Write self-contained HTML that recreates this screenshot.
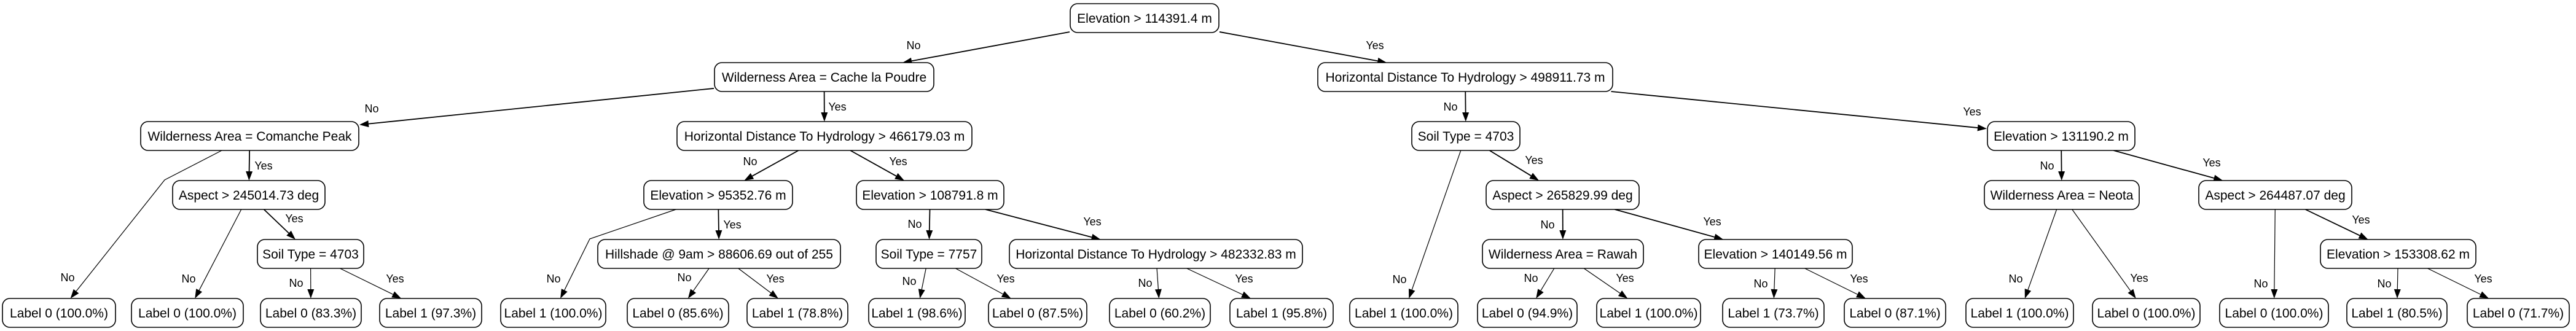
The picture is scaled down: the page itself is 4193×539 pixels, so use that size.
<!DOCTYPE html>
<html><head><meta charset="utf-8"><style>
html,body{margin:0;padding:0;background:#fff;}
svg{display:block;font-family:"Liberation Sans",Arial,sans-serif;}
</style></head><body>
<svg id="tree" width="4193" height="539" viewBox="0 0 4193 539" xmlns="http://www.w3.org/2000/svg"></svg>
<script>
const nodeLabels = [
 "Elevation > 114391.4 m",
 "Wilderness Area = Cache la Poudre",
 "Horizontal Distance To Hydrology > 498911.73 m",
 "Wilderness Area = Comanche Peak",
 "Horizontal Distance To Hydrology > 466179.03 m",
 "Soil Type = 4703",
 "Elevation > 131190.2 m",
 "Aspect > 245014.73 deg",
 "Elevation > 95352.76 m",
 "Elevation > 108791.8 m",
 "Aspect > 265829.99 deg",
 "Wilderness Area = Neota",
 "Aspect > 264487.07 deg",
 "Soil Type = 4703",
 "Hillshade @ 9am > 88606.69 out of 255",
 "Soil Type = 7757",
 "Horizontal Distance To Hydrology > 482332.83 m",
 "Wilderness Area = Rawah",
 "Elevation > 140149.56 m",
 "Elevation > 153308.62 m",
 "Label 0 (100.0%)","Label 0 (100.0%)","Label 0 (83.3%)","Label 1 (97.3%)",
 "Label 1 (100.0%)","Label 0 (85.6%)","Label 1 (78.8%)","Label 1 (98.6%)",
 "Label 0 (87.5%)","Label 0 (60.2%)","Label 1 (95.8%)","Label 1 (100.0%)",
 "Label 0 (94.9%)","Label 1 (100.0%)","Label 1 (73.7%)","Label 0 (87.1%)",
 "Label 1 (100.0%)","Label 0 (100.0%)","Label 0 (100.0%)","Label 1 (80.5%)","Label 0 (71.7%)"
];
const nodeRows = [0,1,1,2,2,2,2,3,3,3,3,3,3,4,4,4,4,4,4,4,5,5,5,5,5,5,5,5,5,5,5,5,5,5,5,5,5,5,5,5,5];
const nodeLeft = [1741,1162,2144,228,1101,2297,3234,280,1047,1393,2418,3229,3578,418,972,1425,1642,2412,2764,3776,
 3,213,423,617,814,1020,1215,1413,1608,1805,2001,2196,2404,2598,2803,3001,3199,3405,3612,3819,4015];
const nodeRight = [1985,1521,2626,585,1583,2475,3476,530,1291,1635,2669,3483,3829,593,1369,1599,2121,2676,3016,4031,
 189,397,589,785,987,1187,1381,1572,1770,1971,2171,2374,2568,2769,2970,3168,3376,3582,3791,3984,4183];
const edgeParent = [0,0,1,1,2,2,3,3,4,4,5,5,6,6,7,7,8,8,9,9,10,10,11,11,12,12,13,13,14,14,15,15,16,16,17,17,18,18,19,19];
const edgeChild  = [1,2,3,4,5,6,20,7,8,9,31,10,11,12,21,13,24,14,15,16,17,18,36,37,38,19,22,23,25,26,27,28,29,30,32,33,34,35,39,40];
const edgeText = ["No","Yes"];
const edgeLabelX = [1487,2238,605,1363,2361,3210,110,429,1221,1462,2278,2497,3332,3600,307,479,901,1192,1489,1778,2519,2787,3281,3482,3680,3843,482,643,1114,1262,1480,1637,1864,2025,2492,2645,2866,3026,3881,4042];
const edgeLabelY = [74,74,177,174,174,182,452,270,263,263,455,261,270,265,454,356,454,366,365,361,366,361,454,453,462,358,461,454,452,454,458,454,461,454,453,453,462,454,462,454];

const rowTop=[6,102,198,294,390,486], boxH=47;
const svg=document.getElementById('tree');
const NS='http://www.w3.org/2000/svg';
function mk(t,a){const e=document.createElementNS(NS,t);for(const k in a)e.setAttribute(k,a[k]);svg.appendChild(e);return e;}
function box(i){return {x1:nodeLeft[i],x2:nodeRight[i],y1:rowTop[nodeRows[i]],y2:rowTop[nodeRows[i]]+boxH};}
function ctr(i){const b=box(i);return [(b.x1+b.x2)/2,(b.y1+b.y2)/2];}
function clip(b,cx,cy,tx,ty){ // point where ray from center (cx,cy) toward (tx,ty) exits box
  const dx=tx-cx,dy=ty-cy;let t=1e9;
  if(dx>0)t=Math.min(t,(b.x2-cx)/dx); if(dx<0)t=Math.min(t,(b.x1-cx)/dx);
  if(dy>0)t=Math.min(t,(b.y2-cy)/dy); if(dy<0)t=Math.min(t,(b.y1-cy)/dy);
  return [cx+dx*t,cy+dy*t];
}
const waypoints={6:[268,293],16:[960,389]};
for(let e=0;e<edgeParent.length;e++){
  const p=edgeParent[e],c=edgeChild[e];
  const [pcx,pcy]=ctr(p),[ccx,ccy]=ctr(c);
  const wp=waypoints[e];
  const aim=wp||[ccx,ccy];
  const s=clip(box(p),pcx,pcy,aim[0],aim[1]);
  const from=wp||[pcx,pcy];
  const t=clip(box(c),ccx,ccy,from[0],from[1]);
  const dx=t[0]-from[0],dy=t[1]-from[1],L=Math.hypot(dx,dy),ux=dx/L,uy=dy/L;
  const bx=t[0]-ux*15,by=t[1]-uy*15;
  let d='M'+s[0]+','+s[1]+(wp?' L'+wp[0]+','+wp[1]:'')+' L'+bx+','+by;
  const line=mk('path',{d:d,fill:'none',stroke:'#000','stroke-width':(c>=20?1.2:1.8)});
  
  
  const ah=mk('polygon',{points:[t[0],t[1],bx-uy*5.5,by+ux*5.5,bx+uy*5.5,by-ux*5.5].join(' '),fill:'#000'});
  
  
  const lb=mk('text',{x:edgeLabelX[e],y:edgeLabelY[e]+6,'text-anchor':'middle','font-size':18,fill:'#000'});
  lb.textContent=edgeText[e%2];
  
  
}
for(let i=0;i<nodeLabels.length;i++){
  const b=box(i);
  const r=mk('rect',{x:b.x1+1,y:b.y1,width:b.x2-b.x1-2,height:boxH,rx:12,ry:12,fill:'#fff',stroke:'#000','stroke-width':1.6});
  
  
  const tx=mk('text',{x:(b.x1+b.x2)/2,y:b.y1+boxH/2+7.5,'text-anchor':'middle','font-size':21,fill:'#000'});
  tx.textContent=nodeLabels[i];
  
  
}
</script>
</body></html>
